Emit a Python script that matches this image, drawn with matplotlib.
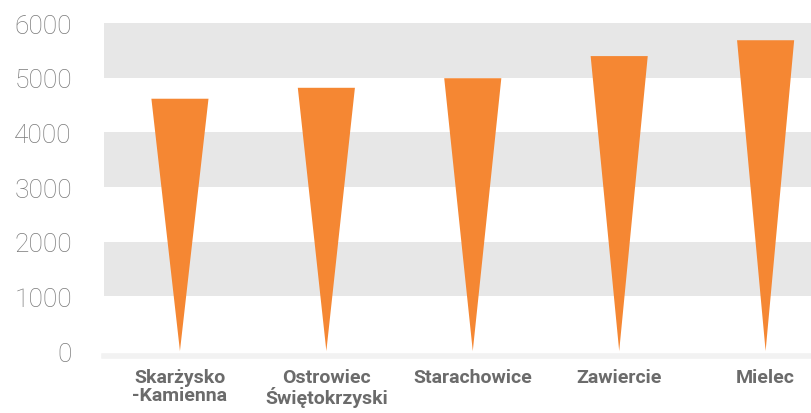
import matplotlib.pyplot as plt
import numpy as np

# Data
cities = ['Skarżysko\n-Kamienna', 'Ostrowiec\nŚwiętokrzyski', 'Starachowice', 'Zawiercie', 'Mielec']
values = [4615, 4815, 4990, 5395, 5685]
yticks = [0, 1000, 2000, 3000, 4000, 5000, 6000]

orange = '#F58733'
band = '#E7E7E7'

fig = plt.figure(figsize=(8.11, 4.14), dpi=100)
ax = fig.add_axes([0.128, 0.1365, 0.872, 0.8055])

# Alternating gray bands
for lo in range(1000, 6000, 2000):
    ax.axhspan(lo, lo + 1000, color=band, zorder=0, lw=0)

# Triangle "bars" pointing down to zero
w = 0.39
for i, v in enumerate(values):
    ax.fill([i - w / 2, i + w / 2, i], [v, v, 0], color=orange, lw=0, zorder=2)

ax.set_xlim(-0.52, 4.31)
ax.set_ylim(-100, 6000)

ax.set_yticks(yticks)
ax.set_yticklabels([str(t) for t in yticks], fontfamily='Roboto', fontweight='light',
                   fontsize=19, color='#7a7a7a')
ax.set_xticks(range(len(cities)))
ax.set_xticklabels(cities, fontfamily='Roboto', fontweight='bold', fontsize=14,
                   color='#6b6b6b', linespacing=1.05)

ax.tick_params(axis='y', length=0, pad=23)
ax.tick_params(axis='x', length=0, pad=8)

for s in ['top', 'right', 'left']:
    ax.spines[s].set_visible(False)
ax.spines['bottom'].set_color('#F2F2F2')
ax.spines['bottom'].set_linewidth(4)

fig.savefig('out.png', dpi=100)
